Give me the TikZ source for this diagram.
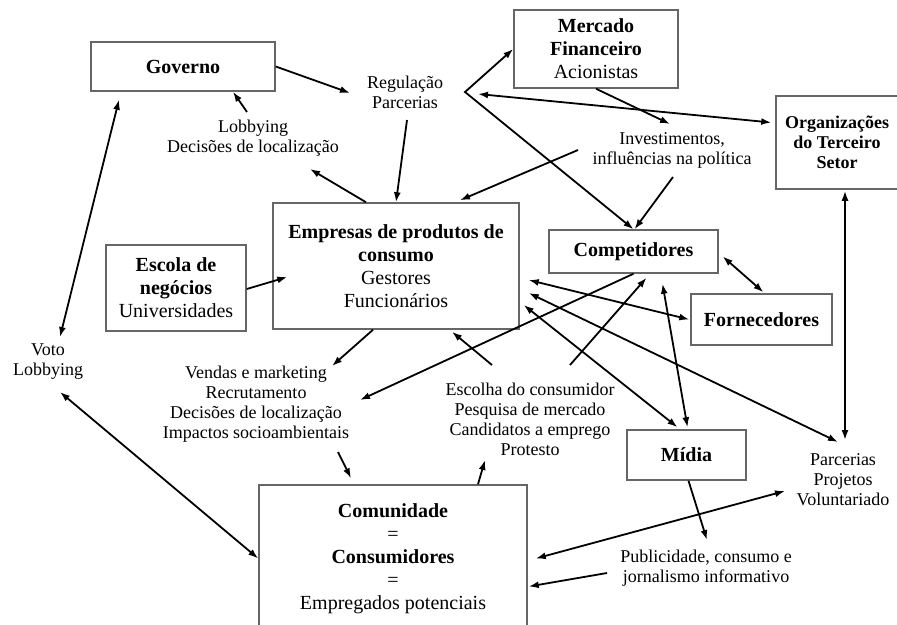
\documentclass[tikz,border=0pt]{standalone}
\usepackage{fontspec}
\setmainfont{Liberation Serif}
\usetikzlibrary{arrows.meta,calc}

\tikzset{
  box/.style={draw=black!60, line width=1.5pt, fill=white, align=center,
    font=\fontsize{20}{23}\selectfont, inner sep=2pt},
  lbl/.style={align=center, font=\fontsize{18}{20}\selectfont, inner sep=1pt},
  arr/.style={line width=1.8pt, -{Latex[length=10pt,width=7pt]}},
  darr/.style={line width=1.8pt, {Latex[length=10pt,width=7pt]}-{Latex[length=10pt,width=7pt]}},
}

\begin{document}
\begin{tikzpicture}[x=1pt,y=-1pt]
\clip[use as bounding box] (0,0) rectangle (897,624);

%%%%%%%%%%%%%%%%%%%Draw The Boxes%%%%%%%%%%%%%%%%%%%
\node[box, minimum width=184, minimum height=49] (gov) at (183,66.5) {\textbf{Governo}};
\node[box, minimum width=164, minimum height=78] (mer) at (596,49) {\textbf{Mercado}\\\textbf{Financeiro}\\Acionistas};
\node[box, minimum width=122, minimum height=93, font=\fontsize{18}{20}\selectfont\bfseries] (org) at (837,142.5) {Organizações\\do Terceiro\\Setor};
\node[box, minimum width=246, minimum height=126] (emp) at (396,266) {\textbf{Empresas de produtos de}\\\textbf{consumo}\\Gestores\\Funcionários};
\node[box, minimum width=140, minimum height=86] (esc) at (176,288) {\textbf{Escola de}\\\textbf{negócios}\\Universidades};
\node[box, minimum width=169, minimum height=43] (com) at (633.5,251.5) {\textbf{Competidores}};
\node[box, minimum width=141, minimum height=51] (forn) at (761.5,319.5) {\textbf{Fornecedores}};
\node[box, minimum width=119, minimum height=50] (mid) at (686.5,455) {\textbf{Mídia}};
\node[box, minimum width=268, minimum height=147] (comu) at (393,558.5) {\textbf{Comunidade}\\=\\\textbf{Consumidores}\\=\\Empregados potenciais};

%%%%%%%%%%%%%%%%%%%Draw The Labels%%%%%%%%%%%%%%%%%%
\node[lbl] (reg) at (405,92) {Regulação\\Parcerias};
\node[lbl] (lob) at (253,138) {Lobbying\\Decisões de localização};
\node[lbl] (inv) at (672,150) {Investimentos,\\influências na política};
\node[lbl] (voto) at (48,362) {Voto\\Lobbying};
\node[lbl] (ven) at (256,404) {Vendas e marketing\\Recrutamento\\Decisões de localização\\Impactos socioambientais};
\node[lbl] (esco) at (530,419) {Escolha do consumidor\\Pesquisa de mercado\\Candidatos a emprego\\Protesto};
\node[lbl] (par) at (843,480) {Parcerias\\Projetos\\Voluntariado};
\node[lbl] (pub) at (706,568) {Publicidade, consumo e\\jornalismo informativo};

\coordinate (vtx) at (465,92);

%%%%%%%%%%%%%%%%Draw The Upper Arrows%%%%%%%%%%%%%%%%
\draw[arr] (gov.east) -- ($(reg)+(-55,1)$);
\draw[arr] ($(lob)+(-6,-26)$) -- ($(gov.south)+(50,0)$);
\draw[arr] ($(emp.north)+(-30,0)$) -- ($(lob)+(57,31)$);
\draw[arr] ($(reg)+(2,28)$) -- (emp.north);
\draw[darr] (mer.west) -- (vtx) -- (com.north);
\draw[darr] ($(reg)+(73,2)$) -- ($(org.west)+(-4,-20)$);
\draw[arr] (mer.south) -- ($(inv)+(-2,-26)$);
\draw[arr] ($(inv)+(-94,0)$) -- ($(emp.north)+(64,-2)$);
\draw[arr] ($(inv)+(1,27)$) -- ($(com.north)+(1,0)$);
\draw[darr] ($(com.east)+(4,5)$) -- ($(forn.north)+(2,-1)$);
\draw[darr] ($(org.south)+(8,1)$) -- ($(par)+(2,-40)$);
\draw[arr] ($(esc.east)+(0,1)$) -- ($(emp.west)+(15,11)$);

%%%%%%%%%%%%%%%%Draw The Lower Arrows%%%%%%%%%%%%%%%%
\draw[darr] ($(gov.south)+(-64,8)$) -- ($(voto)+(12,-25)$);
\draw[darr] ($(voto)+(12,30)$) -- (comu.west);
\draw[arr] ($(emp.south)+(-23,0)$) -- ($(ven)+(76,-38)$);
\draw[arr] (com.south) -- ($(ven)+(104,-4)$);
\draw[arr] ($(ven)+(82,48)$) -- ($(comu.north)+(-42,-6)$);
\draw[arr] ($(comu.north)+(85,0)$) -- ($(esco)+(-45,41)$);
\draw[arr] ($(esco)+(-38,-54)$) -- ($(emp.south)+(56,2)$);
\draw[arr] ($(esco)+(40,-54)$) -- ($(com.south)+(13,4)$);
\draw[darr] ($(emp.east)+(9,14)$) -- ($(forn.west)+(-1,0)$);
\draw[darr] ($(emp.east)+(9,27)$) -- ($(par)+(-5,-38)$);
\draw[darr] ($(emp.east)+(4,39)$) -- ($(mid.north)+(-9,-2)$);
\draw[darr] ($(com.south)+(29,10)$) -- ($(mid.north)+(1,-2)$);
\draw[arr] ($(mid.south)+(2,0)$) -- ($(pub)+(1,-28)$);
\draw[darr] ($(par)+(-58,11)$) -- ($(comu.east)+(8,0)$);
\draw[arr] ($(pub)+(-99,5)$) -- ($(comu.east)+(1,28)$);

\end{tikzpicture}
\end{document}
